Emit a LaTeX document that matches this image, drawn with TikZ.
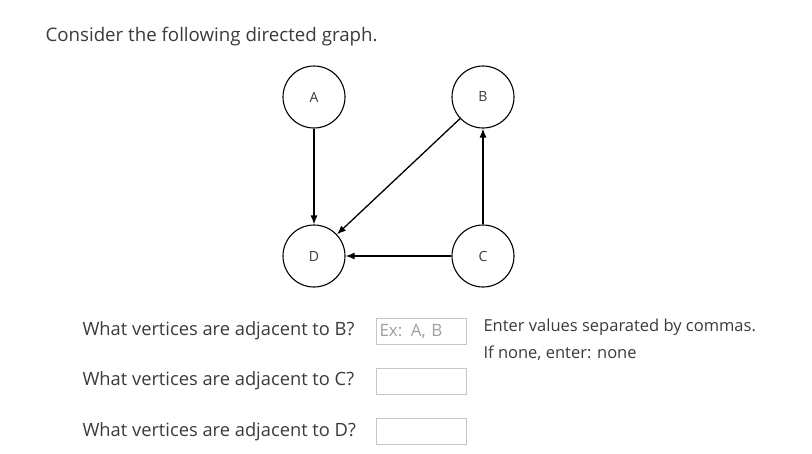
\documentclass[tikz,border=0pt]{standalone}
\usepackage{fontspec}
\setmainfont{Open Sans}
\usetikzlibrary{positioning,arrows.meta}
\definecolor{txt}{HTML}{3A3A3A}
\begin{document}
\begin{tikzpicture}
    [ x = 1pt, y = -1pt
    , vertex/.style =
      { draw, circle, line width = 1.1pt, minimum size = 62pt, inner sep = 0pt, font = \fontsize{14}{16}\selectfont, text = txt }
    , edge/.style =
      { -{Latex[length=9pt,width=7pt]}, line width = 1.3pt }
    , question/.style =
      { anchor = west, font = \fontsize{18.3}{21}\selectfont, text = txt }
    , hint/.style =
      { anchor = west, font = \fontsize{16.5}{19}\selectfont, text = txt }
    , answerbox/.style =
      { draw = gray!45, line width = 1pt, minimum width = 90pt, minimum height = 26pt, inner sep = 2pt }
    ]
    \useasboundingbox (0,0) rectangle (812,453);
    \node [anchor=west, font=\fontsize{18.7}{22}\selectfont, text=txt] (title) at (42,37) {Consider the following directed graph.};

    \node [vertex] (A) at (314,97) {A};
    \node [vertex] (B) at (483,97) {B};
    \node [vertex] (D) at (314,256) {D};
    \node [vertex] (C) at (483,256) {C};

    \draw [edge] (A) -- (D);
    \draw [edge] (B) -- (D);
    \draw [edge] (C) -- (B);
    \draw [edge] (C) -- (D);

    \node [question] (q1) at (79,331) {What vertices are adjacent to B?};
    \node [question] (q2) at (79,381) {What vertices are adjacent to C?};
    \node [question] (q3) at (79,432) {What vertices are adjacent to D?};

    \node [answerbox, anchor=west, font=\fontsize{17}{20}\selectfont, text=gray!75, align=left, text width=84pt] (b1) at (376,331) {Ex: A, B};
    \node [answerbox, anchor=west] (b2) at (376,381) {};
    \node [answerbox, anchor=west] (b3) at (376,431) {};

    \node [hint] (h1) at (480,327) {Enter values separated by commas.};
    \node [hint] (h2) at (480,353) {If none, enter: none};
\end{tikzpicture}
\end{document}
